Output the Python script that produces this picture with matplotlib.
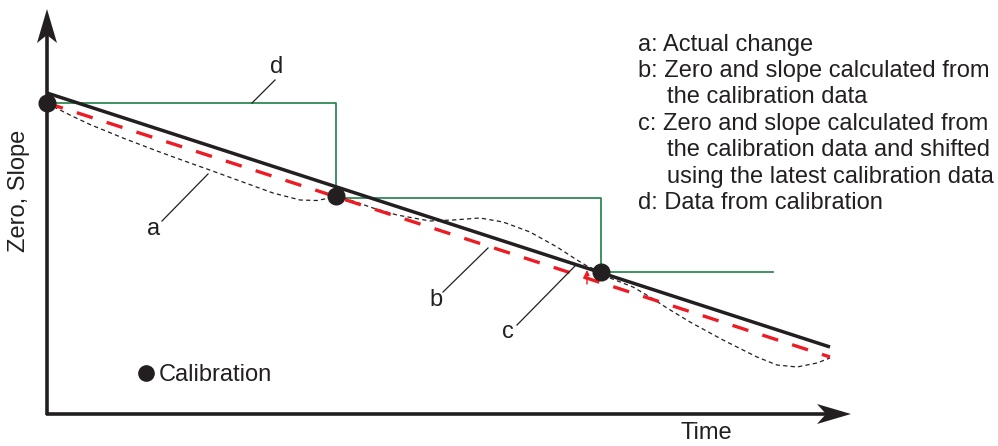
import matplotlib
matplotlib.use("Agg")
import matplotlib.pyplot as plt
from matplotlib.patches import Polygon

plt.rcParams['font.family'] = ['Liberation Sans', 'DejaVu Sans']

# ---- data (diagram coordinates, x right, y down) ----
cal_x = [47, 336, 601]
cal_y = [103, 196, 272]

fit_x = [47, 830]          # c: solid black
fit_y = [93, 347]

calc_x = [47, 830]         # b: red dashed
calc_y = [103, 357]

step_x = [47, 336, 601, 773]   # d: green step
step_y = [103, 198, 272, 272]

actual_x = [47, 57, 73, 90, 123, 157, 190, 207, 240, 273, 300, 317, 327, 336,
            350, 373, 397, 430, 453, 480, 503, 530, 557, 577, 587, 601,
            610, 633, 650, 667, 690, 723, 757, 777, 797, 817, 830]
actual_y = [103, 108.5, 116.5, 124.5, 138, 151, 163, 169, 181, 193, 200, 200.5, 198.5, 196,
            200, 208, 215, 221, 220, 218, 222, 232, 247, 260, 266, 272,
            278, 287, 297, 308, 322, 340, 357, 365, 367, 363, 358]

legend_lines = [
    ("a: ", "Actual change"),
    ("b: ", "Zero and slope calculated from"),
    ("", "the calibration data"),
    ("c: ", "Zero and slope calculated from"),
    ("", "the calibration data and shifted"),
    ("", "using the latest calibration data"),
    ("d: ", "Data from calibration"),
]

W, H = 998, 446
fig = plt.figure(figsize=(W / 100, H / 100), dpi=100)
ax = fig.add_axes([0, 0, 1, 1])
ax.set_xlim(0, W)
ax.set_ylim(H, 0)
ax.axis('off')

FS = 17
axis_lw = 2.6
ink = '#231f20'

# axes with arrowheads
ax.plot([47, 47], [415, 30], color=ink, lw=axis_lw, solid_capstyle='butt')
ax.plot([46, 835], [414, 414], color=ink, lw=axis_lw, solid_capstyle='butt')
ax.add_patch(Polygon([[47, 9], [57, 43], [47, 35], [37, 43]], closed=True,
                     color=ink, lw=0))
ax.add_patch(Polygon([[851, 414], [817, 424], [826, 414], [817, 404]], closed=True,
                     color=ink, lw=0))

# d: green step
ax.step(step_x, step_y, where='post', color='#1f8047', lw=1.2, zorder=2)

# a: actual change (fine dashes)
ax.plot(actual_x, actual_y, color=ink, lw=0.9, dashes=(3.4, 2.6), zorder=3)

# b: red dashed
ax.plot(calc_x, calc_y, color='#ed1c24', lw=2.4, dashes=(5, 4.4), zorder=4)

# c: black solid
ax.plot(fit_x, fit_y, color=ink, lw=2.5, zorder=5, solid_capstyle='butt')

# small red shift arrow
ax.annotate('', xy=(587, 270), xytext=(587, 284),
            arrowprops=dict(arrowstyle='-|>', color='#ed1c24', lw=1.0,
                            mutation_scale=7, shrinkA=0, shrinkB=0), zorder=6)

# calibration points
ax.plot(cal_x, cal_y, 'o', color=ink, ms=12, zorder=7)

# leader lines and labels
leaders = {
    'd': ((252, 103), (275, 80), (277, 73)),
    'a': ((162, 221), (208, 174), (154, 235)),
    'b': ((443, 292), (488, 248), (436, 306)),
    'c': ((517, 325), (575, 266), (508, 338)),
}
for lab, (p0, p1, tp) in leaders.items():
    ax.plot([p0[0], p1[0]], [p0[1], p1[1]], color=ink, lw=0.9, zorder=6)
    ax.text(tp[0], tp[1], lab, fontsize=FS, ha='center', va='baseline', color=ink)

# legend text
baselines = [51, 77, 103, 130, 156, 183, 209]
for (pre, txt), yb in zip(legend_lines, baselines):
    if pre:
        ax.text(638, yb, pre + txt, fontsize=FS, ha='left', va='baseline', color=ink)
    else:
        ax.text(667, yb, txt, fontsize=FS, ha='left', va='baseline', color=ink)

# calibration legend
ax.plot([146], [373], 'o', color=ink, ms=11)
ax.text(159, 381, 'Calibration', fontsize=FS, ha='left', va='baseline', color=ink)

# axis labels
ax.text(706, 444, 'Time', fontsize=FS, ha='center', va='bottom', color=ink)
ax.text(19, 191, 'Zero, Slope', fontsize=FS, ha='center', va='center',
        rotation=90, color=ink)

fig.savefig('out.png', dpi=100)
